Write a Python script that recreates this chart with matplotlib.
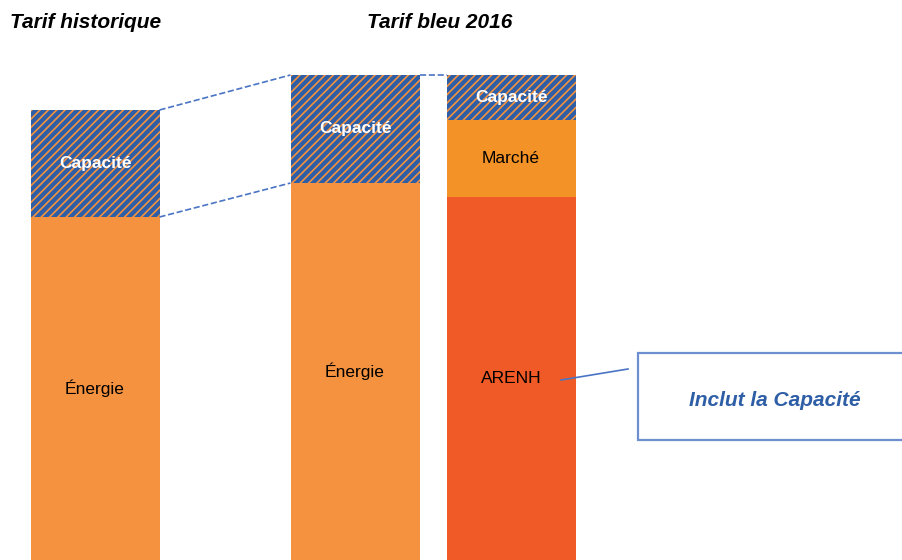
import matplotlib.pyplot as plt
from matplotlib.patches import Rectangle

plt.rcParams['font.family'] = ['Liberation Sans', 'DejaVu Sans']
plt.rcParams['hatch.linewidth'] = 1.2

# ── Données (hauteurs en unités arbitraires) ───────────────────────────────────
hist_energie = 343
hist_capacite = 107
bleu_energie = 377
bleu_capacite = 108
arenh = 363
marche = 77
arenh_capacite = 45

titles = ["Tarif historique", "Tarif bleu 2016"]
callout_text = "Inclut la Capacité"

# ── Couleurs ──────────────────────────────────────────────────────────────────
C_ENERGIE = "#F5923F"
C_MARCHE = "#F39227"
C_ARENH = "#F05A26"
C_BLUE = "#2E5EA6"
C_HATCH = "#F5923F"
C_LINE = "#4A74C4"

fig = plt.figure(figsize=(9.02, 5.60), dpi=100)
ax = fig.add_axes([0, 0, 1, 1])
ax.set_xlim(0, 902)
ax.set_ylim(0, 560)
ax.axis("off")


def segment(x, w, bottom, h, color, label, hatched=False, txt_color="black",
            bold=False, size=12.5):
    if hatched:
        ax.bar(x, h, width=w, bottom=bottom, color=C_BLUE, edgecolor=C_HATCH,
               hatch="////", linewidth=0, align="center")
    else:
        ax.bar(x, h, width=w, bottom=bottom, color=color, linewidth=0,
               align="center")
    ax.text(x, bottom + h / 2, label, ha="center", va="center",
            color=txt_color, fontsize=size,
            fontweight="bold" if bold else "normal")


x_hist, x_bleu, x_arenh = 95, 355, 511
w = 129

# Tarif historique
segment(x_hist, w, 0, hist_energie, C_ENERGIE, "Énergie")
segment(x_hist, w, hist_energie, hist_capacite, None, "Capacité",
        hatched=True, txt_color="white", bold=True)

# Tarif bleu 2016 - énergie + capacité
segment(x_bleu, w, 0, bleu_energie, C_ENERGIE, "Énergie")
segment(x_bleu, w, bleu_energie, bleu_capacite, None, "Capacité",
        hatched=True, txt_color="white", bold=True)

# Tarif bleu 2016 - ARENH / marché / capacité
segment(x_arenh, w, 0, arenh, C_ARENH, "ARENH")
segment(x_arenh, w, arenh, marche, C_MARCHE, "Marché")
segment(x_arenh, w, arenh + marche, arenh_capacite, None, "Capacité",
        hatched=True, txt_color="white", bold=True)

# Lignes pointillées de liaison
hr = x_hist + w / 2
bl = x_bleu - w / 2
br = x_bleu + w / 2
al = x_arenh - w / 2
top_hist = hist_energie + hist_capacite
top_bleu = bleu_energie + bleu_capacite
ax.plot([hr, bl], [top_hist, top_bleu], ls="--", color=C_LINE, lw=1.2)
ax.plot([hr, bl], [hist_energie, bleu_energie], ls="--", color=C_LINE, lw=1.2)
ax.plot([br, al], [top_bleu, arenh + marche + arenh_capacite], ls="--",
        color=C_LINE, lw=1.2)

# Titres
ax.text(10, 538, titles[0], ha="left", va="center", fontsize=15,
        fontweight="bold", fontstyle="italic")
ax.text(440, 538, titles[1], ha="center", va="center", fontsize=15,
        fontweight="bold", fontstyle="italic")

# Encadré
ax.add_patch(Rectangle((638, 120), 280, 87, facecolor="white",
                       edgecolor="#6D8FCF", linewidth=1.6, clip_on=True))
ax.text(775, 160, callout_text, ha="center", va="center", fontsize=15,
        fontweight="bold", fontstyle="italic", color=C_BLUE)
ax.plot([561, 628], [180, 191], color=C_LINE, lw=1.2)

fig.savefig("out.png", dpi=100)
